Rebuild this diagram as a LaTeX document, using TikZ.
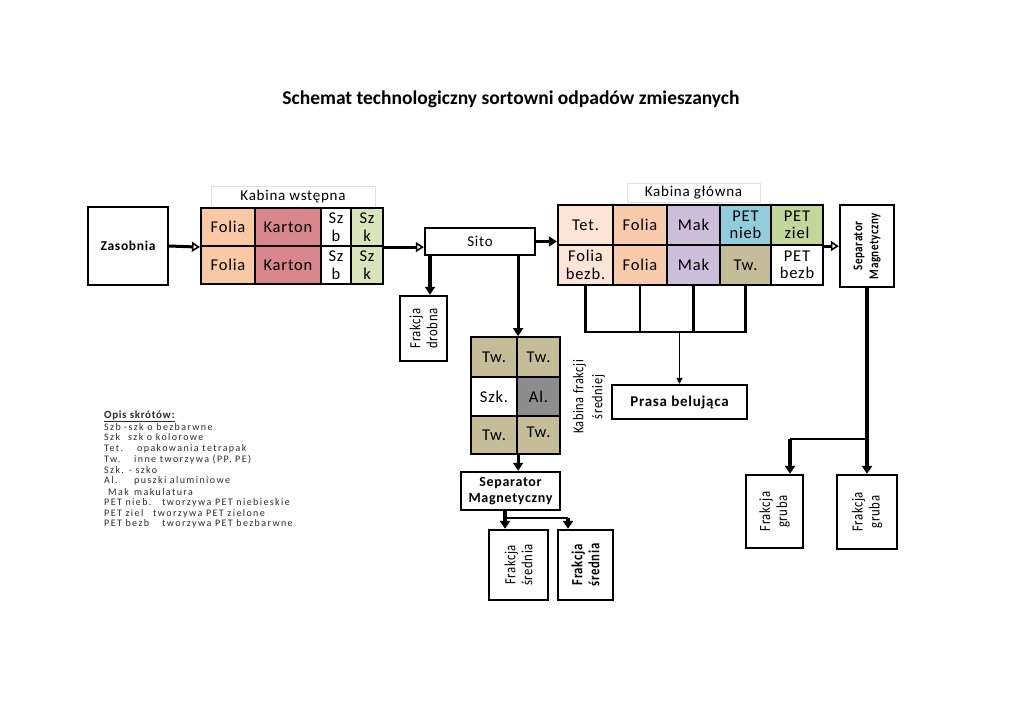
\documentclass[tikz,border=0pt]{standalone}
\usepackage{fontspec}
\usepackage{graphicx}
\setmainfont{Carlito}[LetterSpace=5]
\newfontfamily\titlefont{Carlito}
\newfontfamily\legfont[LetterSpace=14]{Carlito}
\newfontfamily\legbfont[LetterSpace=6]{Carlito}
\newcommand\cnd[1]{\scalebox{0.82}[1]{#1}}
\usetikzlibrary{arrows.meta}
\definecolor{cFoliaW}{HTML}{F9C9A5}
\definecolor{cKarton}{HTML}{D9878C}
\definecolor{cSzk}{HTML}{D8E4BC}
\definecolor{cTet}{HTML}{FCE4D6}
\definecolor{cFolia}{HTML}{F8CBAD}
\definecolor{cMak}{HTML}{CDBFDB}
\definecolor{cNieb}{HTML}{92CDDC}
\definecolor{cZiel}{HTML}{C3D69B}
\definecolor{cTw}{HTML}{C4BD97}
\definecolor{cAl}{HTML}{8D8D8D}
\definecolor{cLeg}{HTML}{2A2A2A}
\tikzset{
  cell/.style={draw=black, line width=2.2pt, inner sep=0pt, align=center,
    font=\fontsize{16.5}{17.5}\selectfont},
  box/.style={draw=black, line width=2.4pt, inner sep=0pt, align=center, fill=white},
  rot/.style={rotate=90, align=center, inner sep=0pt, font=\fontsize{15.5}{17}\selectfont},
  lbl/.style={draw=black!12, line width=0.6pt, inner sep=0pt, font=\fontsize{15}{16}\selectfont},
  arr/.style={line width=3.2pt, -{Triangle[length=8pt,width=10pt]}},
  oarr/.style={line width=3pt, -{Triangle[open,length=8pt,width=10pt,line width=1.6pt]}},
  tarr/.style={line width=1.8pt, -{Triangle[length=6pt,width=6pt]}},
  bus/.style={line width=2.4pt},
  leg/.style={anchor=west, inner sep=0pt, text=cLeg, font=\legfont\fontsize{10}{11}\selectfont},
}
\begin{document}
\begin{tikzpicture}[x=1pt,y=-1pt]
\useasboundingbox[fill=white] (0,0) rectangle (1024,725);

% title
\node[font=\titlefont\bfseries\fontsize{19.5}{21}\selectfont] (title) at (511,99) {Schemat technologiczny sortowni odpadów zmieszanych};

% Zasobnia
\node[box, minimum width=80, minimum height=78, font=\bfseries\fontsize{13.5}{15}\selectfont] (zas) at (128,246) {Zasobnia};

% Kabina wstepna
\node[lbl, minimum width=164, minimum height=21] (kwl) at (293,196.5) {Kabina wstępna};
\node[cell, fill=cFoliaW, minimum width=54, minimum height=38] (w11) at (228,227) {Folia};
\node[cell, fill=cKarton, minimum width=66, minimum height=38] (w12) at (288,227) {Karton};
\node[cell, fill=white, minimum width=30, minimum height=38] (w13) at (336,227) {Sz\\b};
\node[cell, fill=cSzk, minimum width=32, minimum height=38] (w14) at (367,227) {Sz\\k};
\node[cell, fill=cFoliaW, minimum width=54, minimum height=38] (w21) at (228,265) {Folia};
\node[cell, fill=cKarton, minimum width=66, minimum height=38] (w22) at (288,265) {Karton};
\node[cell, fill=white, minimum width=30, minimum height=38] (w23) at (336,265) {Sz\\b};
\node[cell, fill=cSzk, minimum width=32, minimum height=38] (w24) at (367,265) {Sz\\k};

% Sito
\node[box, minimum width=110, minimum height=27, font=\fontsize{15}{16}\selectfont] (sito) at (480,241.5) {Sito};

% Kabina glowna
\node[lbl, minimum width=133, minimum height=19] (kgl) at (693.5,192.5) {Kabina główna};
\node[cell, fill=cTet, minimum width=55, minimum height=40] (g11) at (585.5,225) {Tet.};
\node[cell, fill=cFolia, minimum width=54, minimum height=40] (g12) at (640,225) {Folia};
\node[cell, fill=cMak, minimum width=53, minimum height=40] (g13) at (693.5,225) {Mak};
\node[cell, fill=cNieb, minimum width=51, minimum height=40] (g14) at (745.5,225) {PET\\nieb};
\node[cell, fill=cZiel, minimum width=52, minimum height=40] (g15) at (797,225) {PET\\ziel};
\node[cell, fill=cTet, minimum width=55, minimum height=40] (g21) at (585.5,265) {Folia\\bezb.};
\node[cell, fill=cFolia, minimum width=54, minimum height=40] (g22) at (640,265) {Folia};
\node[cell, fill=cMak, minimum width=53, minimum height=40] (g23) at (693.5,265) {Mak};
\node[cell, fill=cTw, minimum width=51, minimum height=40] (g24) at (745.5,265) {Tw.};
\node[cell, fill=white, minimum width=52, minimum height=40] (g25) at (797,265) {PET\\bezb};

% Separator (right)
\node[box, minimum width=54, minimum height=82] (sep) at (867,246) {};
\node[rot, font=\bfseries\fontsize{13.5}{16}\selectfont] (sepT) at (sep) {\cnd{Separator}\\\cnd{Magnetyczny}};

% Frakcja drobna
\node[box, minimum width=47, minimum height=65] (drob) at (423.5,328.5) {};
\node[rot] (drobT) at (drob) {\cnd{Frakcja}\\\cnd{drobna}};

% Kabina frakcji sredniej
\node[cell, fill=cTw, minimum width=46, minimum height=39.5] (f11) at (494,357) {Tw.};
\node[cell, fill=cTw, minimum width=43, minimum height=39.5] (f12) at (538.5,357) {Tw.};
\node[cell, fill=white, minimum width=46, minimum height=39] (f21) at (494,396.5) {Szk.};
\node[cell, fill=cAl, minimum width=43, minimum height=39] (f22) at (538.5,396.5) {Al.};
\node[cell, fill=cTw, minimum width=46, minimum height=38] (f31) at (494,435) {\raisebox{-3pt}{Tw.}};
\node[cell, fill=cTw, minimum width=43, minimum height=38] (f32) at (538.5,435) {\raisebox{5pt}{Tw.}};
\node[rot, font=\fontsize{15}{19}\selectfont] (kfs) at (589,397) {\cnd{Kabina frakcji}\\\cnd{średniej}};

% Separator 2
\node[box, minimum width=99, minimum height=38, font=\bfseries\fontsize{14}{15.5}\selectfont] (sep2) at (510.5,491) {Separator\\Magnetyczny};

% Frakcja srednia
\node[box, minimum width=59, minimum height=70] (sr1) at (518.5,565) {};
\node[rot] (sr1T) at (sr1) {\cnd{Frakcja}\\\cnd{średnia}};
\node[box, minimum width=55, minimum height=70] (sr2) at (585.5,565) {};
\node[rot, font=\bfseries\fontsize{15.5}{17}\selectfont] (sr2T) at (sr2) {\cnd{Frakcja}\\\cnd{średnia}};

% Prasa
\node[box, minimum width=135, minimum height=34, font=\bfseries\fontsize{15}{16}\selectfont] (prasa) at (679.5,402) {Prasa belująca};

% Frakcja gruba
\node[box, minimum width=57, minimum height=73] (gr1) at (774.5,511.5) {};
\node[rot] (gr1T) at (gr1) {\cnd{Frakcja}\\\cnd{gruba}};
\node[box, minimum width=60, minimum height=74] (gr2) at (867,512) {};
\node[rot] (gr2T) at (gr2) {\cnd{Frakcja}\\\cnd{gruba}};

% connectors
\draw[oarr] (zas.east) -- (w11.south west);
\draw[oarr] (w14.south east) -- (w14.south east -| sito.west);
\draw[arr] (sito.east) -- (sito.east -| g11.west);
\draw[oarr] (g15.south east) -- (g15.south east -| sep.west);

\coordinate (jd) at (430,0);
\draw[arr] (jd |- sito.south) -- (jd |- drob.north);
\draw[arr] (f11.north east |- sito.south) -- (f11.north east);
\draw[arr] (f31.south east) -- (f31.south east |- sep2.north);

\coordinate (j2) at (505,518);
\coordinate (j3) at (568,518);
\draw[arr] (j2 |- sep2.south) -- (j2 |- sr1.north);
\draw[bus] (j2) -- (j3);
\draw[arr] (j3) -- (j3 |- sr2.north);

\coordinate (bus) at (0,332);
\draw[bus] (g21.south) -- (g21.south |- bus) -- (g24.south |- bus) -- (g24.south);
\draw[bus] (g22.south) -- (g22.south |- bus);
\draw[bus] (g23.south) -- (g23.south |- bus);
\draw[tarr] (prasa.north |- bus) -- (prasa.north);

\coordinate (j4) at (790,439);
\draw[arr] (sep.south) -- (sep.south |- gr2.north);
\draw[bus, line width=2.8pt] (sep.south |- j4) -- (j4);
\draw[arr] (j4) -- (j4 |- gr1.north);

% legend
\node[leg, font=\legbfont\bfseries\fontsize{11}{12}\selectfont] (l0) at (104,416) {\underline{Opis skrótów:}};
\node[leg] (l1) at (104,427) {\makebox[20pt][l]{Szb}-szk o bezbarwne};
\node[leg] (l2) at (104,437) {\makebox[24pt][l]{Szk}szk o kolorowe};
\node[leg] (l3) at (104,448.5) {\makebox[33pt][l]{Tet.}opakowania tetrapak};
\node[leg] (l4) at (104,459.5) {\makebox[30pt][l]{Tw.}inne tworzywa (PP, PE)};
\node[leg] (l5) at (104,470.5) {Szk. - szko};
\node[leg] (l6) at (104,481) {\makebox[30pt][l]{Al.}puszki aluminiowe};
\node[leg] (l7) at (108,492) {\makebox[26pt][l]{Mak}makulatura};
\node[leg] (l8) at (104,503) {\makebox[58pt][l]{PET nieb.}tworzywa PET niebieskie};
\node[leg] (l9) at (104,513.5) {\makebox[49pt][l]{PET ziel}tworzywa PET zielone};
\node[leg] (l10) at (104,524) {\makebox[58pt][l]{PET bezb}tworzywa PET bezbarwne};
\end{tikzpicture}
\end{document}
